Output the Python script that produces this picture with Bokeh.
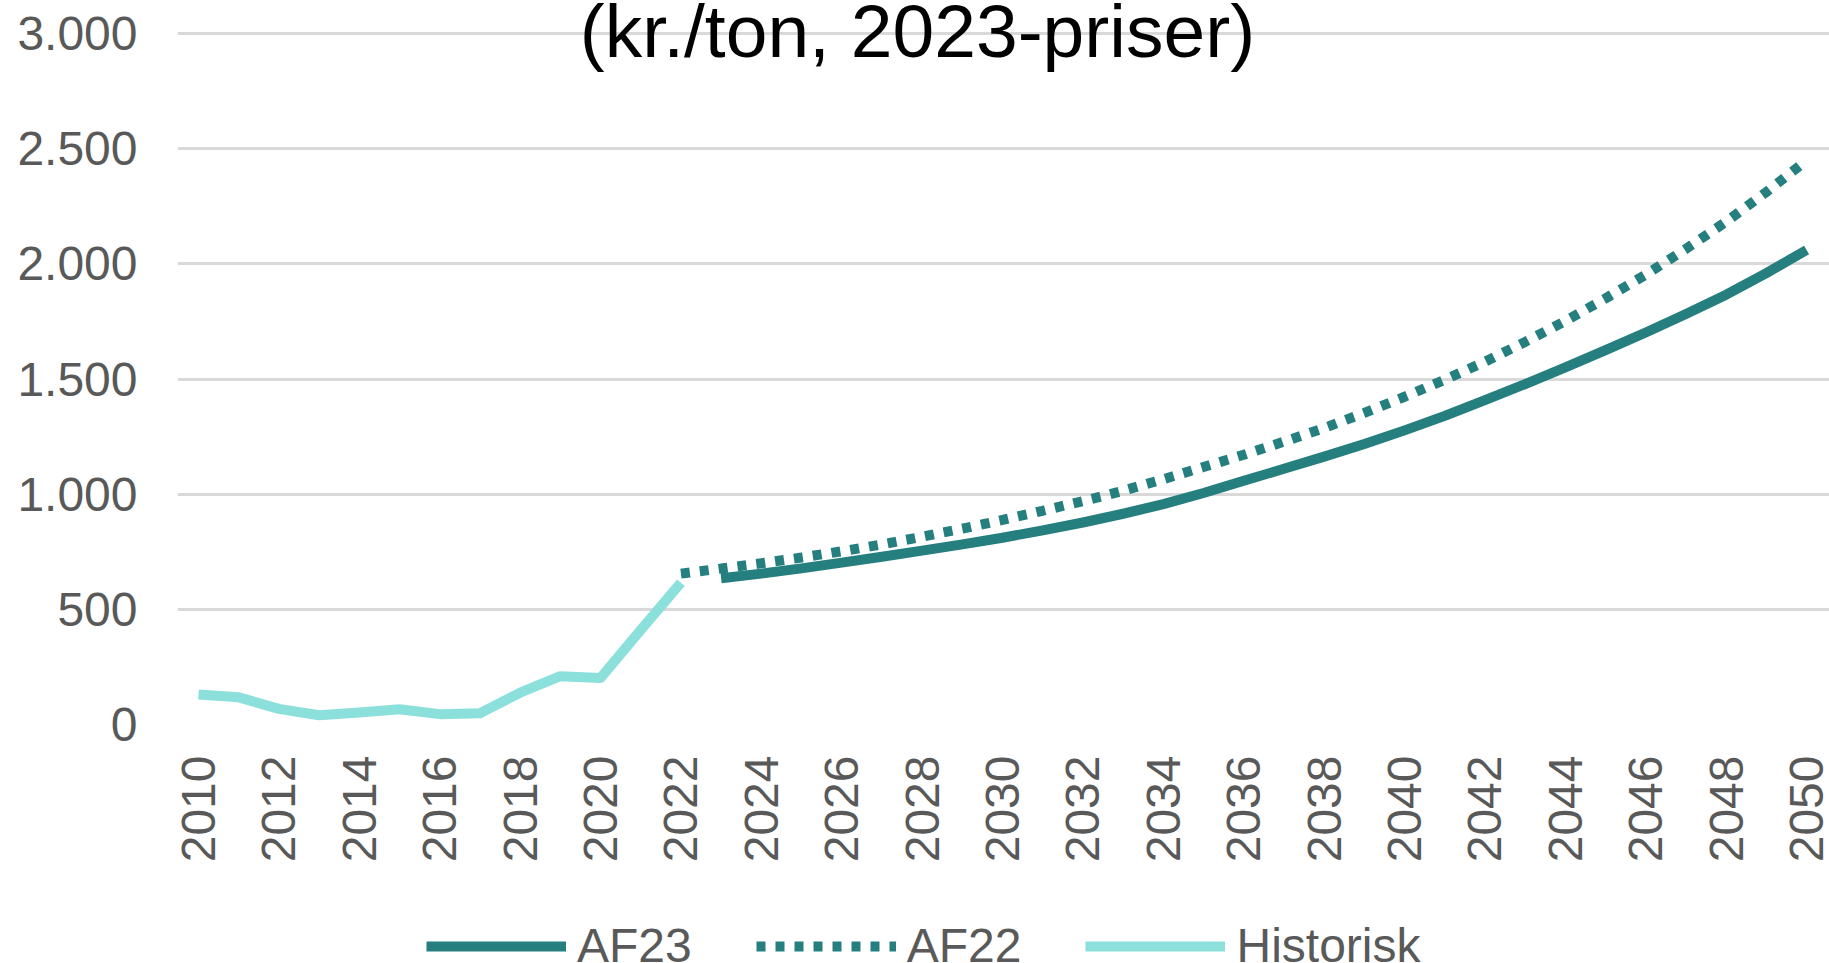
from math import pi
from bokeh.plotting import figure
from bokeh.layouts import column
from bokeh.models import Range1d, FixedTicker, Legend, LegendItem, Label
from bokeh.embed import file_html
from bokeh.resources import INLINE

# ---- data ----
hist_years = list(range(2010, 2023))
hist_values = [130, 118, 68, 40, 52, 66, 45, 49, 138, 210, 202, 410, 615]

af23_years = list(range(2023, 2051))
af23_values = [635, 655, 678, 703, 728, 755, 782, 811, 843, 877, 915, 957, 1005, 1058,
               1110, 1163, 1218, 1277, 1340, 1408, 1478, 1550, 1625, 1702, 1782, 1866,
               1960, 2060]

af22_years = list(range(2022, 2051))
af22_values = [655, 677, 700, 725, 752, 782, 815, 850, 888, 928, 970, 1015, 1065, 1118,
               1171, 1228, 1287, 1353, 1423, 1497, 1575, 1661, 1752, 1850, 1953, 2065,
               2183, 2312, 2449]

x_ticks = list(range(2010, 2051, 2))
y_ticks = [0, 500, 1000, 1500, 2000, 2500, 3000]
y_tick_labels = ["0", "500", "1.000", "1.500", "2.000", "2.500", "3.000"]
series_names = ["AF23", "AF22", "Historisk"]
title_text = "(kr./ton, 2023-priser)"

# ---- styling ----
FONT = "Liberation Sans"
DARK = "#267F7F"
LIGHT = "#8BE0DC"
TXT = "#595959"
LW = 10
DOTS = "9 10"

p = figure(width=1829, height=870, output_backend="svg", toolbar_location=None,
           x_range=Range1d(2009.478, 2050.57), y_range=Range1d(0, 3143.3),
           min_border_left=177, min_border_right=0, min_border_top=0,
           min_border_bottom=146)
p.outline_line_color = None
p.background_fill_color = "white"
p.border_fill_color = "white"

p.xgrid.grid_line_color = None
p.ygrid.grid_line_color = "#D9D9D9"
p.ygrid.grid_line_width = 3

p.xaxis.ticker = FixedTicker(ticks=x_ticks)
p.yaxis.ticker = FixedTicker(ticks=y_ticks)
p.yaxis.major_label_overrides = {t: l for t, l in zip(y_ticks, y_tick_labels)}
p.xaxis.major_label_orientation = pi / 2
for ax in (p.xaxis, p.yaxis):
    ax.axis_line_color = None
    ax.major_tick_line_color = None
    ax.minor_tick_line_color = None
    ax.major_tick_out = 0
    ax.major_tick_in = 0
    ax.major_label_text_font = FONT
    ax.major_label_text_font_size = "48px"
    ax.major_label_text_color = TXT
p.xaxis.major_label_standoff = 31
p.yaxis.major_label_standoff = 40

p.line(af23_years, af23_values, line_color=DARK, line_width=LW, line_join="round")
p.line(af22_years, af22_values, line_color=DARK, line_width=LW, line_dash=DOTS,
       line_cap="butt")
p.line(hist_years, hist_values, line_color=LIGHT, line_width=LW, line_join="round")

title = Label(x=740, y=694, x_units="screen", y_units="screen", text=title_text,
              text_font=FONT, text_font_size="75px", text_align="center",
              text_baseline="alphabetic", text_color="black")
p.add_layout(title)

# ---- legend strip below the chart (series drawn off-range, only keys show) ----
q = figure(width=1829, height=93, output_backend="svg", toolbar_location=None,
           x_range=Range1d(0, 1), y_range=Range1d(0, 1),
           x_axis_location=None, y_axis_location=None,
           min_border_left=0, min_border_right=0, min_border_top=0,
           min_border_bottom=0)
q.outline_line_color = None
q.grid.visible = False
q.background_fill_color = "white"
q.border_fill_color = "white"
k23 = q.line(af23_years, af23_values, line_color=DARK, line_width=LW)
k22 = q.line(af22_years, af22_values, line_color=DARK, line_width=LW, line_dash=DOTS,
             line_cap="butt")
kh = q.line(hist_years, hist_values, line_color=LIGHT, line_width=LW)
legend = Legend(items=[LegendItem(label=series_names[0], renderers=[k23]),
                       LegendItem(label=series_names[1], renderers=[k22]),
                       LegendItem(label=series_names[2], renderers=[kh])],
                orientation="horizontal", location=(249, -10),
                label_text_font=FONT, label_text_font_size="48px",
                label_text_color=TXT, glyph_width=140, glyph_height=30,
                label_standoff=11, spacing=64, padding=0, margin=0,
                border_line_color=None, background_fill_alpha=0)
q.add_layout(legend)

layout = column(p, q, spacing=0)
open("out.html", "w").write(file_html(layout, INLINE))
